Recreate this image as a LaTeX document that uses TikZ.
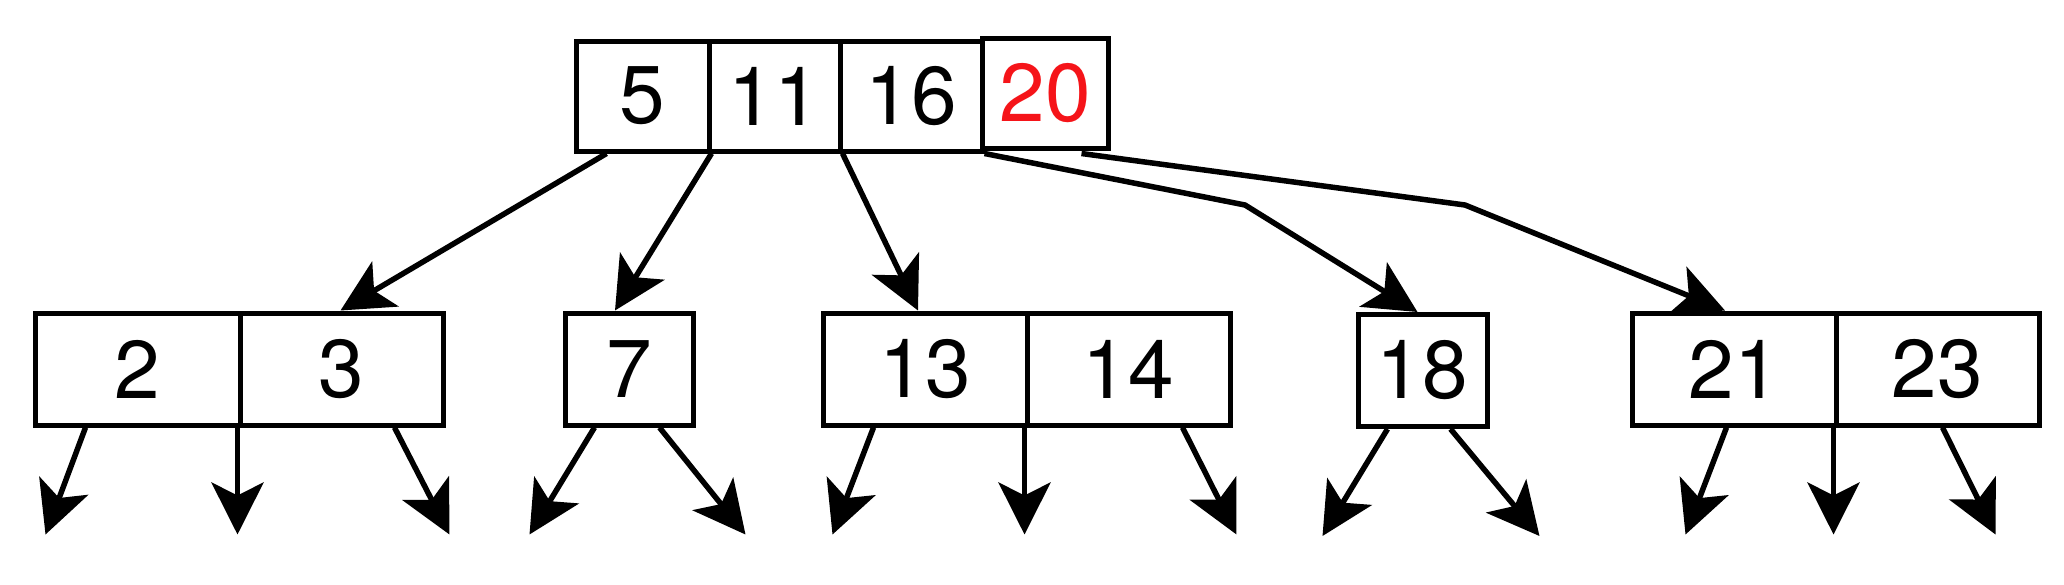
\documentclass[tikz,border=0pt]{standalone}
\usepackage{fontspec}
\setmainfont{TeX Gyre Heros}
\usetikzlibrary{%
	arrows.meta%
}
\definecolor{newkey}{RGB}{245,20,25}

\begin{document}
\begin{tikzpicture}[x=1pt,y=-1pt,>={Stealth[length=52pt,width=52pt,inset=13pt]},
		key/.style={draw,line width=5pt,minimum width=#1,minimum height=110pt,inner sep=0pt,font=\fontsize{82}{84}\selectfont},
		link/.style={->,line width=5.5pt,line join=round}]
				\useasboundingbox (0,0) rectangle (2064,584);
				
				% Root
				\node[key=133pt] (k5) at (642.5,96) {5};
				\node[key=131pt] (k11) at (774.5,96) {11};
				\node[key=142pt] (k16) at (911,96) {16};
				
				% Leaves
				\node[key=205pt,minimum height=112pt] (k2) at (137.5,369) {2};
				\node[key=203pt,minimum height=112pt] (k3) at (341.5,369) {3};
				\node[key=128pt,minimum height=112pt] (k7) at (629,369) {7};
				\node[key=204pt,minimum height=112pt] (k13) at (925,369) {13};
				\node[key=203pt,minimum height=112pt] (k14) at (1128.5,369) {14};
				\node[key=129pt,minimum height=112pt] (k18) at (1422.5,370.5) {18};
				\node[key=204pt,minimum height=112pt] (k21) at (1734,369) {21};
				\node[key=203pt,minimum height=112pt] (k23) at (1937.5,369) {23};
				
				% Bends
				\coordinate (bend18) at (1245,205);
				\coordinate (bend21) at (1465,205);
				
				% Root links
				\draw[link] ([xshift=33pt]k5.south west) -- ([xshift=103pt]k3.north west);
				\draw[link] (k5.south east) -- ([xshift=-14pt]k7.north);
				\draw[link] (k11.south east) -- ([xshift=-7pt]k13.north);
				\draw[link] (k16.south east) -- (bend18) -- ([xshift=-5pt]k18.north);
				\draw[link] ([xshift=97pt]k16.south east) -- (bend21) -- ([xshift=-9pt]k21.north);
				
				% New key
				\node[key=126pt,fill=white,text=newkey] (k20) at (1045,93) {20};
				
				% Leaf links
				\foreach \n/\s/\d in {k2/53/-40,k2/205/0,k3/157/55,k7/32/-65,k7/97/86,k13/53/-41,k13/204/0,k14/158/54,k18/32/-65,k18/95/89,k21/97/-41,k21/204/0,k23/109/53}
				\draw[link] ([xshift=\s pt]\n.south west) -- ++(\d,107);
			\end{tikzpicture}
\end{document}
